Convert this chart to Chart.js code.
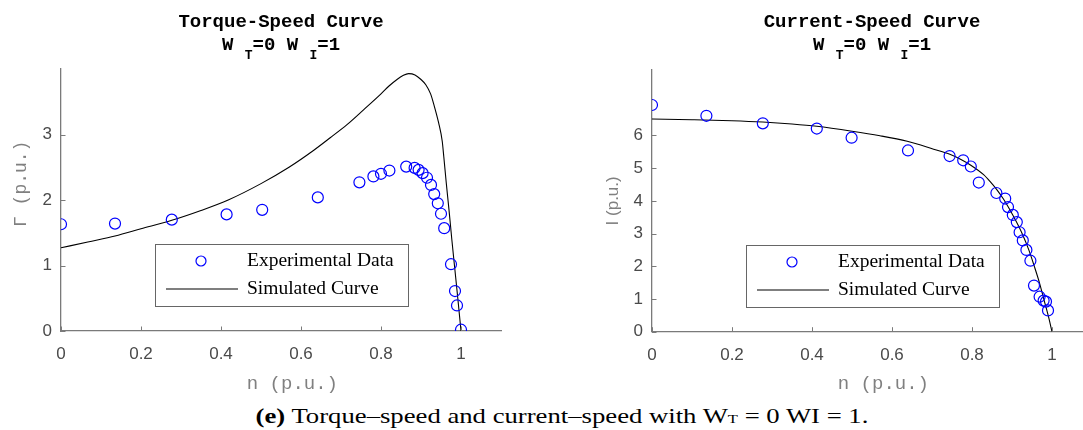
<!DOCTYPE html>
<html>
<head>
<meta charset="utf-8">
<script src="https://cdn.jsdelivr.net/npm/chart.js@4.4.0/dist/chart.umd.min.js"></script>
<style>
    html, body { margin: 0; padding: 0; background: #fff; overflow: hidden; }
    #wrap { position: relative; width: 1083px; height: 430px; overflow: hidden; }
    canvas { position: absolute; top: 0; }
    #torqueChart { left: 0; }
    #currentChart { left: 560px; }
    #caption {
        position: absolute; top: 403px; left: 562px;
        font-family: 'Liberation Serif', serif; font-size: 21px; line-height: 27px;
        white-space: nowrap; color: #000; transform-origin: center;
    }
    #caption .small { font-size: 13px; }
</style>
</head>
<body>
<div id="wrap">
    <canvas id="torqueChart" width="540" height="400"></canvas>
    <canvas id="currentChart" width="540" height="400"></canvas>
    <div id="caption"><b>(e)</b> Torque–speed and current–speed with W<span class="small">T</span> = 0 WI = 1.</div>
</div>
<script>
// Torque-speed: measured points
const torqueExpSpeed = [0, 0.135, 0.277, 0.414, 0.503, 0.642, 0.746, 0.781, 0.800, 0.821, 0.863, 0.884,
    0.894, 0.904, 0.915, 0.925, 0.933, 0.942, 0.950, 0.958, 0.975, 0.985, 0.990, 1.000];
const torqueExp = [1.63, 1.64, 1.70, 1.78, 1.85, 2.04, 2.27, 2.36, 2.40, 2.45, 2.51, 2.49,
    2.46, 2.41, 2.34, 2.23, 2.09, 1.95, 1.79, 1.57, 1.02, 0.61, 0.39, 0.02];

// Torque-speed: simulated curve
const torqueSimSpeed = [0, 0.067, 0.135, 0.2, 0.277, 0.35, 0.418, 0.5, 0.57, 0.632, 0.673, 0.715, 0.757,
    0.80, 0.82, 0.84, 0.855, 0.869, 0.885, 0.90, 0.912, 0.924, 0.932, 0.944, 0.953, 0.957, 0.963, 0.970,
    0.977, 0.984, 0.992, 1.0];
const torqueSim = [1.27, 1.36, 1.45, 1.56, 1.69, 1.84, 2.00, 2.25, 2.50, 2.76, 2.95, 3.15, 3.38,
    3.62, 3.74, 3.84, 3.90, 3.93, 3.91, 3.84, 3.76, 3.62, 3.46, 3.18, 2.90, 2.66, 2.27, 1.85,
    1.40, 0.98, 0.50, 0];

// Current-speed: measured points
const currentExpSpeed = [0, 0.136, 0.277, 0.412, 0.499, 0.640, 0.744, 0.778, 0.797, 0.817, 0.861, 0.883,
    0.890, 0.902, 0.912, 0.919, 0.927, 0.936, 0.946, 0.955, 0.969, 0.979, 0.985, 0.990];
const currentExp = [6.93, 6.60, 6.37, 6.21, 5.93, 5.54, 5.37, 5.24, 5.05, 4.56, 4.24, 4.07,
    3.81, 3.57, 3.35, 3.04, 2.79, 2.50, 2.17, 1.41, 1.07, 0.95, 0.92, 0.65];

// Current-speed: simulated curve
const currentSimSpeed = [0, 0.1, 0.2, 0.277, 0.35, 0.412, 0.5, 0.57, 0.638, 0.704, 0.743, 0.77, 0.797,
    0.829, 0.846, 0.861, 0.879, 0.904, 0.925, 0.942, 0.956, 0.969, 0.981, 0.992, 1.0];
const currentSim = [6.50, 6.48, 6.45, 6.41, 6.35, 6.28, 6.13, 5.99, 5.82, 5.58, 5.43, 5.28, 5.09,
    4.80, 4.58, 4.36, 4.05, 3.52, 3.01, 2.50, 1.99, 1.48, 0.93, 0.42, 0];

// tick values
const speedTicks = [0, 0.2, 0.4, 0.6, 0.8, 1];
const torqueTicks = [0, 1, 2, 3];
const currentTicks = [0, 1, 2, 3, 4, 5, 6];

const legendLabels = ['Experimental Data', 'Simulated Curve'];

const axisColor = '#7a7a7a';
const tickColor = '#4a4a4a';
const markerBlue = '#0000ff';

function toPoints(xs, ys) {
    return xs.map((x, i) => ({ x: x, y: ys[i] }));
}

// Draws MATLAB-style inward ticks, the two-line title and the boxed legend
const matlabLook = {
    id: 'matlabLook',
    afterDraw(chart, args, opts) {
        const ctx = chart.ctx;
        const area = chart.chartArea;
        const xs = chart.scales.x, ys = chart.scales.y;
        ctx.save();

        // inward tick marks
        ctx.strokeStyle = axisColor;
        ctx.lineWidth = 1;
        xs.ticks.forEach(t => {
            const px = Math.round(xs.getPixelForValue(t.value)) + 0.5;
            ctx.beginPath();
            ctx.moveTo(px, area.bottom);
            ctx.lineTo(px, area.bottom - 4.5);
            ctx.stroke();
        });
        ys.ticks.forEach(t => {
            const py = Math.round(ys.getPixelForValue(t.value)) + 0.5;
            ctx.beginPath();
            ctx.moveTo(area.left, py);
            ctx.lineTo(area.left + 4.5, py);
            ctx.stroke();
        });

        // title
        const cx = (area.left + area.right) / 2;
        ctx.fillStyle = '#000';
        ctx.textBaseline = 'alphabetic';
        ctx.textAlign = 'center';
        ctx.font = 'bold 19px "Liberation Mono", monospace';
        ctx.fillText(opts.title, cx, 27);

        const bigFont = 'bold 19px "Liberation Mono", monospace';
        const subFont = 'bold 13px "Liberation Mono", monospace';
        const parts = [
            { t: 'W ', sub: false }, { t: 'T', sub: true }, { t: '=0 W ', sub: false },
            { t: 'I', sub: true }, { t: '=1', sub: false }
        ];
        let total = 0;
        parts.forEach(p => {
            ctx.font = p.sub ? subFont : bigFont;
            p.w = ctx.measureText(p.t).width;
            total += p.w;
        });
        let x = cx - total / 2;
        ctx.textAlign = 'left';
        parts.forEach(p => {
            ctx.font = p.sub ? subFont : bigFont;
            ctx.fillText(p.t, x, p.sub ? 59 : 50);
            x += p.w;
        });

        // legend box
        const bx = area.left + 94, by = area.top + 175, bw = 253, bh = 62;
        ctx.fillStyle = '#fff';
        ctx.fillRect(bx, by, bw, bh);
        ctx.strokeStyle = '#666';
        ctx.lineWidth = 1;
        ctx.strokeRect(Math.round(bx) + 0.5, Math.round(by) + 0.5, bw, bh);

        ctx.strokeStyle = markerBlue;
        ctx.lineWidth = 1.2;
        ctx.beginPath();
        ctx.arc(bx + 46, by + 17, 5, 0, Math.PI * 2);
        ctx.stroke();

        ctx.strokeStyle = '#000';
        ctx.lineWidth = 1.1;
        ctx.beginPath();
        ctx.moveTo(bx + 11, by + 45);
        ctx.lineTo(bx + 83, by + 45);
        ctx.stroke();

        ctx.fillStyle = '#000';
        ctx.font = '19.5px "Liberation Serif", serif';
        ctx.textBaseline = 'middle';
        ctx.fillText(legendLabels[0], bx + 92, by + 17);
        ctx.fillText(legendLabels[1], bx + 92, by + 45);

        ctx.restore();
    }
};

function makeChart(canvasId, cfg) {
    const ctx = document.getElementById(canvasId).getContext('2d');
    return new Chart(ctx, {
        type: 'scatter',
        data: {
            datasets: [{
                label: legendLabels[0],
                data: toPoints(cfg.expX, cfg.expY),
                showLine: false,
                pointStyle: 'circle',
                pointRadius: 5.5,
                pointBorderWidth: 1.2,
                pointBorderColor: markerBlue,
                pointBackgroundColor: 'rgba(0,0,0,0)'
            }, {
                label: legendLabels[1],
                data: toPoints(cfg.simX, cfg.simY),
                showLine: true,
                pointRadius: 0,
                borderColor: '#000',
                borderWidth: 1.1,
                cubicInterpolationMode: 'monotone'
            }]
        },
        options: {
            responsive: false,
            animation: false,
            devicePixelRatio: 1,
            events: [],
            layout: { padding: cfg.padding },
            plugins: {
                legend: { display: false },
                tooltip: { enabled: false },
                matlabLook: { title: cfg.title }
            },
            scales: {
                x: {
                    type: 'linear',
                    min: 0,
                    max: 1.1,
                    afterFit: s => { s.height = cfg.xHeight; },
                    afterBuildTicks: s => { s.ticks = speedTicks.map(v => ({ value: v })); },
                    ticks: {
                        color: tickColor,
                        padding: 13,
                        maxRotation: 0,
                        autoSkip: false,
                        callback: v => String(v),
                        font: { family: 'Liberation Sans', size: 17 }
                    },
                    grid: { display: false, drawTicks: false, tickLength: 0 },
                    border: { display: true, color: axisColor, width: 1.3 },
                    title: {
                        display: true,
                        text: '  n (p.u.)',
                        color: '#808080',
                        padding: { top: 0, bottom: 0 },
                        font: { family: 'Liberation Mono', size: 19 }
                    }
                },
                y: {
                    type: 'linear',
                    min: 0,
                    max: cfg.yMax,
                    afterFit: s => { s.width = cfg.yWidth; },
                    afterBuildTicks: s => { s.ticks = cfg.yTicks.map(v => ({ value: v })); },
                    ticks: {
                        color: tickColor,
                        padding: 9,
                        autoSkip: false,
                        callback: v => String(v),
                        font: { family: 'Liberation Sans', size: 17 }
                    },
                    grid: { display: false, drawTicks: false, tickLength: 0 },
                    border: { display: true, color: axisColor, width: 1.3 },
                    title: {
                        display: true,
                        text: cfg.yTitle,
                        color: '#808080',
                        padding: { top: cfg.yTitlePad, bottom: 0 },
                        font: cfg.yTitleFont
                    }
                }
            }
        },
        plugins: [matlabLook]
    });
}

makeChart('torqueChart', {
    title: 'Torque-Speed Curve',
    expX: torqueExpSpeed, expY: torqueExp,
    simX: torqueSimSpeed, simY: torqueSim,
    yMax: 4, yTicks: torqueTicks,
    yTitle: '   Γ (p.u.)',
    yTitleFont: { family: 'Liberation Mono', size: 18 },
    yTitlePad: 10,
    yWidth: 61, xHeight: 64,
    padding: { left: 0, top: 69, right: 39, bottom: 5 }
});

makeChart('currentChart', {
    title: 'Current-Speed Curve',
    expX: currentExpSpeed, expY: currentExp,
    simX: currentSimSpeed, simY: currentSim,
    yMax: 8, yTicks: currentTicks,
    yTitle: 'I (p.u.)',
    yTitleFont: { family: 'Liberation Sans', size: 17 },
    yTitlePad: 43,
    yWidth: 92, xHeight: 63.3,
    padding: { left: 0, top: 70, right: 8, bottom: 5 }
});

// stretch the caption to the width it has in the figure
const caption = document.getElementById('caption');
const capWidth = caption.getBoundingClientRect().width;
caption.style.transform = 'translateX(-50%) scaleX(' + (613 / capWidth).toFixed(3) + ')';
</script>
</body>
</html>
